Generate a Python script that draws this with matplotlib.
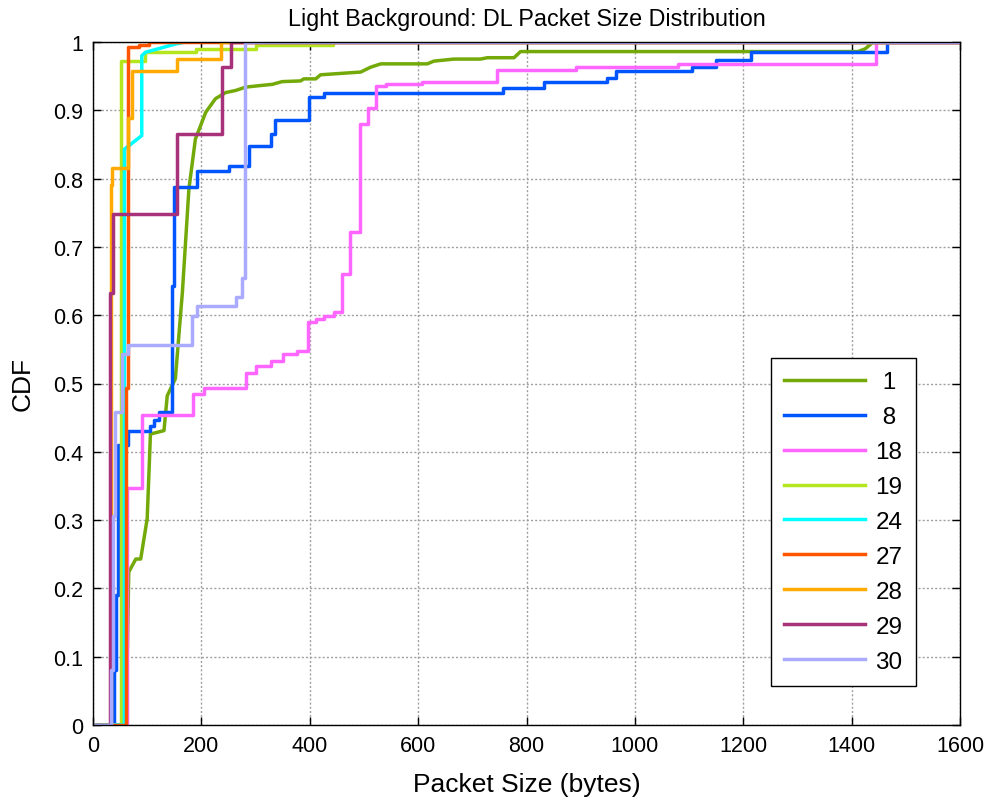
import numpy as np
import matplotlib.pyplot as plt

plt.rcParams['font.family'] = ['Liberation Sans', 'DejaVu Sans']

# per-user CDF of downlink packet sizes (bytes)
# step series: size where the CDF jumps, CDF value after the jump
x1 = [0, 61, 66, 79, 88, 100, 106, 131, 137, 152, 165, 177, 189, 208, 226, 245, 263,
      282, 306, 331, 349, 383, 389, 411, 420, 494, 512, 531, 617, 629, 666, 715, 728,
      777, 789, 1412, 1425, 1440, 1600]
y1 = [0, 0, 0.224, 0.243, 0.243, 0.302, 0.426, 0.431, 0.482, 0.507, 0.634, 0.785,
      0.858, 0.897, 0.917, 0.926, 0.929, 0.934, 0.936, 0.938, 0.942, 0.943, 0.946,
      0.946, 0.952, 0.956, 0.963, 0.968, 0.968, 0.972, 0.975, 0.975, 0.977, 0.977,
      0.986, 0.986, 0.99, 1.0, 1.0]

x8 = [0, 38, 42, 46, 65, 106, 112, 122, 146, 149, 192, 251, 288, 328, 335, 399, 426,
      756, 832, 949, 965, 1106, 1149, 1214, 1466, 1600]
y8 = [0, 0.08, 0.19, 0.41, 0.43, 0.438, 0.446, 0.458, 0.643, 0.787, 0.811, 0.819,
      0.848, 0.865, 0.886, 0.919, 0.925, 0.933, 0.942, 0.948, 0.957, 0.963, 0.973,
      0.986, 1.0, 1.0]

x18 = [0, 63, 91, 184, 204, 282, 300, 328, 350, 377, 396, 411, 426, 445, 459, 474,
       492, 508, 522, 540, 608, 746, 891, 1079, 1445, 1600]
y18 = [0, 0.347, 0.454, 0.485, 0.494, 0.516, 0.526, 0.533, 0.543, 0.548, 0.590,
       0.594, 0.599, 0.604, 0.660, 0.722, 0.880, 0.903, 0.936, 0.939, 0.942, 0.959,
       0.963, 0.968, 1.0, 1.0]

x19 = [0, 51, 96, 190, 300, 442, 1600]
y19 = [0, 0.972, 0.985, 0.99, 0.995, 1.0, 1.0]

x24 = [0, 58, 58, 90, 90, 97, 152, 171, 1600]
y24 = [0, 0, 0.843, 0.863, 0.98, 0.985, 0.997, 1.0, 1.0]

x27 = [0, 61, 64.5, 84, 103, 1600]
y27 = [0, 0.494, 0.992, 0.996, 1.0, 1.0]

x28 = [0, 33, 35.5, 64.5, 72.5, 155.5, 235.5, 1600]
y28 = [0, 0.79, 0.816, 0.889, 0.957, 0.975, 1.0, 1.0]

x29 = [0, 32, 36, 155.5, 238.5, 254, 1600]
y29 = [0, 0.633, 0.748, 0.865, 0.963, 1.0, 1.0]

x30 = [0, 33, 37, 40, 54, 65, 183, 192.5, 263, 275, 280, 1600]
y30 = [0, 0.08, 0.306, 0.458, 0.543, 0.556, 0.599, 0.614, 0.626, 0.655, 1.0, 1.0]

series = [
    (' 1', x1, y1, '#73AA0A', 'default'),
    (' 8', x8, y8, '#0055FF', 'steps-post'),
    ('18', x18, y18, '#FF66FF', 'steps-post'),
    ('19', x19, y19, '#B4E61E', 'steps-post'),
    ('24', x24, y24, '#00FFFF', 'default'),
    ('27', x27, y27, '#FF5500', 'steps-post'),
    ('28', x28, y28, '#FFAA00', 'steps-post'),
    ('29', x29, y29, '#A8327A', 'steps-post'),
    ('30', x30, y30, '#AAAAFF', 'steps-post'),
]

fig = plt.figure(figsize=(9.93, 8.03), dpi=100)
ax = fig.add_axes([93 / 993, 77 / 803, 867 / 993, 683 / 803])

for name, xs, ys, col, ds in series:
    ax.plot(xs, ys, color=col, lw=2.5, drawstyle=ds, label=name)

ax.set_xlim(0, 1600)
ax.set_ylim(0, 1)
ax.set_xticks(np.arange(0, 1601, 200))
ax.set_yticks(np.arange(0, 1.01, 0.1))
ax.set_yticklabels(['0', '0.1', '0.2', '0.3', '0.4', '0.5', '0.6', '0.7', '0.8', '0.9', '1'])
ax.grid(True, color='#a0a0a0', linestyle=(0, (1.5, 1.5)), lw=1)
ax.tick_params(direction='in', length=6, width=1, top=True, right=True,
               labelsize=15.5, pad=7)
for s in ax.spines.values():
    s.set_linewidth(1)

ax.set_title('Light Background: DL Packet Size Distribution', fontsize=16.8, pad=12)
ax.set_xlabel('Packet Size (bytes)', fontsize=19, labelpad=12)
ax.set_ylabel('CDF', fontsize=19, labelpad=13)

leg = ax.legend(loc='upper left', bbox_to_anchor=(771 / 993, 1 - 359 / 803),
                bbox_transform=fig.transFigure, borderaxespad=0,
                fontsize=17.5, handlelength=3.3, labelspacing=0.53,
                borderpad=0.55, handletextpad=0.45,
                fancybox=False, edgecolor='black', framealpha=1)
leg.get_frame().set_linewidth(1)

fig.savefig('out.png', dpi=100)
